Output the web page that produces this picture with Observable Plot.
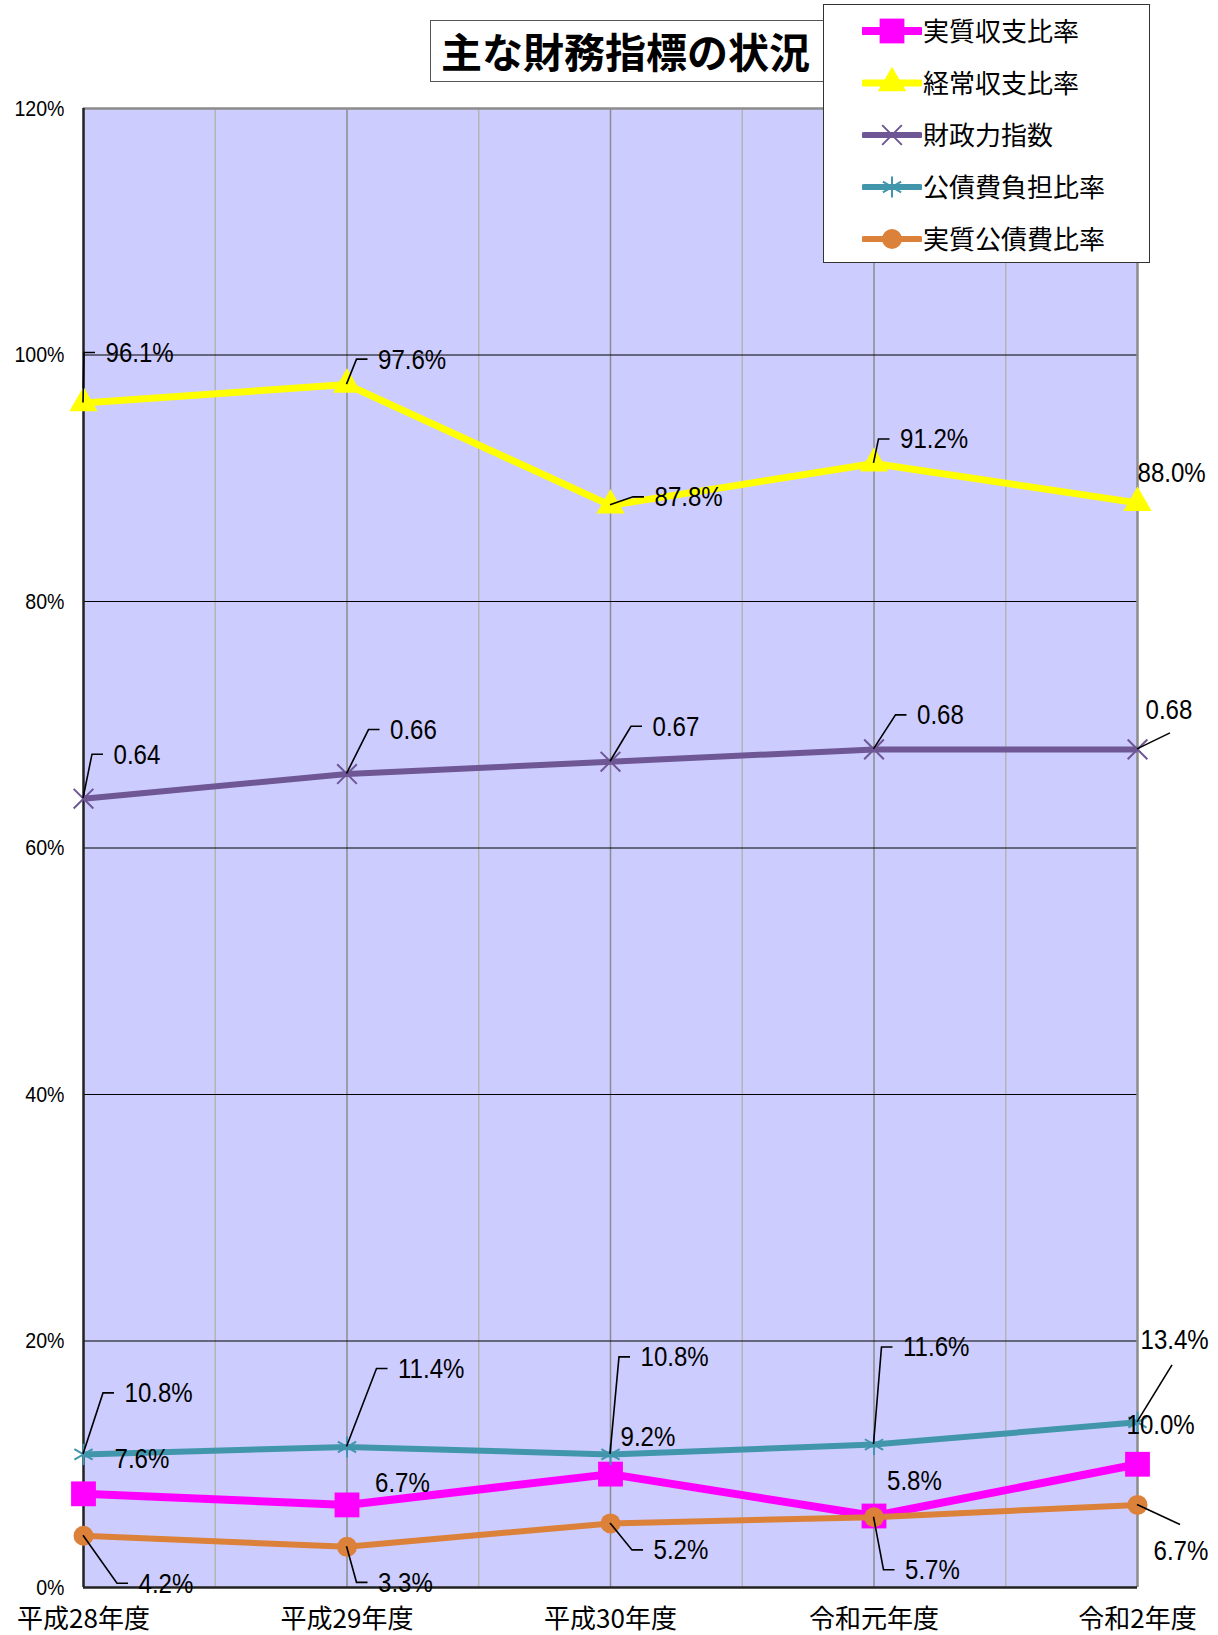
<!DOCTYPE html>
<html>
<head>
<meta charset="utf-8">
<script src="https://cdn.jsdelivr.net/npm/d3@7"></script>
<script src="https://cdn.jsdelivr.net/npm/@observablehq/plot@0.6"></script>
<style>
  body { margin: 0; background: #fff; }
  #wrap { position: relative; width: 1218px; height: 1635px; }
  #wrap svg.chart { position: absolute; left: 0; top: 0; }
  #title {
    position: absolute; left: 430px; top: 20px; width: 420px; height: 62px;
    box-sizing: border-box; border: 1.5px solid #555; background: #fff;
    font: bold 41px "Noto Sans CJK JP", sans-serif; line-height: 58px;
    padding-left: 10px; white-space: nowrap; color: #000;
  }
  #legend {
    position: absolute; left: 823px; top: 4px; width: 327px; height: 259px;
    box-sizing: border-box; border: 1.5px solid #333; background: #fff;
  }
  #legend .row { position: absolute; left: 0; height: 40px; width: 100%; }
  #legend .row svg { position: absolute; left: 38px; top: 0; }
  #legend .row span {
    position: absolute; left: 99px; top: 0; line-height: 40px;
    font: 26px "Noto Sans CJK JP", sans-serif; color: #000; white-space: nowrap;
  }
</style>
</head>
<body>
<div id="wrap">
  <div id="title">主な財務指標の状況</div>
  <div id="legend"></div>
</div>
<script>
// Fiscal years on the horizontal axis
const years = ["平成28年度", "平成29年度", "平成30年度", "令和元年度", "令和2年度"];

// Indicator values by year (ratios in %, fiscal power index as a fraction)
const realBalanceRatio = [7.6, 6.7, 9.2, 5.8, 10.0];         // 実質収支比率
const currentBalanceRatio = [96.1, 97.6, 87.8, 91.2, 88.0];  // 経常収支比率
const fiscalPowerIndex = [0.64, 0.66, 0.67, 0.68, 0.68];     // 財政力指数
const debtBurdenRatio = [10.8, 11.4, 10.8, 11.6, 13.4];      // 公債費負担比率
const realDebtServiceRatio = [4.2, 3.3, 5.2, 5.7, 6.7];      // 実質公債費比率

// Vertical axis ticks (%)
const yTicks = [0, 20, 40, 60, 80, 100, 120];

// Series appearance
const series = [
  {name: "実質収支比率", values: realBalanceRatio, scale: 1, fmt: v => v.toFixed(1) + "%",
   color: "#FF00FF", width: 8, symbol: "square", r: 14, filled: true},
  {name: "経常収支比率", values: currentBalanceRatio, scale: 1, fmt: v => v.toFixed(1) + "%",
   color: "#FFFF00", width: 7, symbol: "triangle", r: 10.5, filled: true},
  {name: "財政力指数", values: fiscalPowerIndex, scale: 100, fmt: v => v.toFixed(2),
   color: "#6E5794", width: 6, symbol: "times", r: 9, filled: false},
  {name: "公債費負担比率", values: debtBurdenRatio, scale: 1, fmt: v => v.toFixed(1) + "%",
   color: "#4196AC", width: 6, symbol: "asterisk", r: 10, filled: false},
  {name: "実質公債費比率", values: realDebtServiceRatio, scale: 1, fmt: v => v.toFixed(1) + "%",
   color: "#DC8139", width: 6, symbol: "circle", r: 10, filled: true}
];

// Data label placement: pixel offset of the label's left/middle from its point,
// and the leader style ("elbow" bends into the label's left side, [ex, ey] is a straight line end)
const labelPlacement = [
  [{dx: 31, dy: -35}, {dx: 28, dy: -22}, {dx: 10, dy: -37}, {dx: 13, dy: -35}, {dx: -11, dy: -39}],
  [{dx: 22, dy: -50, leader: "elbow"}, {dx: 31, dy: -25, leader: "elbow"}, {dx: 44, dy: -8, leader: "elbow"},
   {dx: 26, dy: -24, leader: "elbow"}, {dx: 0, dy: -30}],
  [{dx: 30, dy: -44, leader: "elbow"}, {dx: 43, dy: -44, leader: "elbow"}, {dx: 42, dy: -35, leader: "elbow"},
   {dx: 43, dy: -34, leader: "elbow"}, {dx: 8, dy: -39, leader: [33, -16]}],
  [{dx: 41, dy: -61, leader: "elbow"}, {dx: 51, dy: -78, leader: "elbow"}, {dx: 30, dy: -97, leader: "elbow"},
   {dx: 29, dy: -97, leader: "elbow"}, {dx: 3, dy: -82, leader: [35, -57]}],
  [{dx: 55, dy: 48, leader: "elbow"}, {dx: 31, dy: 36, leader: "elbow"}, {dx: 43, dy: 27, leader: "elbow"},
   {dx: 31, dy: 53, leader: "elbow"}, {dx: 16, dy: 46, leader: [43, 20]}]
];

const numFont = '"Liberation Sans", Arial, sans-serif';
const jpFont = '"Noto Sans CJK JP", sans-serif';
const LABEL_SIZE = 28, TICK_SIZE = 22;
// horizontal condensing of the numeric fonts
const condense = {[LABEL_SIZE]: 0.86, [TICK_SIZE]: 0.89};

const idx = years.map((_, i) => i);
const mids = idx.slice(0, -1).map(i => i + 0.5);

const rows = series.map(s => s.values.map((v, i) => ({i, y: v * s.scale, v, label: s.fmt(v)})));

const marks = [
  Plot.frame({fill: "#CCCCFF", stroke: null}),
  Plot.ruleX(mids, {x: d => d, stroke: "#B4B4B4", strokeWidth: 1.5}),
  Plot.ruleX(idx.slice(1, -1), {x: d => d, stroke: "#8C8C8C", strokeWidth: 1.5}),
  Plot.ruleY(yTicks.slice(1, -1), {y: d => d, stroke: "#000", strokeWidth: 1}),
  // plot border: grey top/right, dark left/bottom
  Plot.ruleY([120], {y: d => d, stroke: "#8C8C8C", strokeWidth: 2.5}),
  Plot.ruleX([years.length - 1], {x: d => d, stroke: "#8C8C8C", strokeWidth: 2.5}),
  Plot.ruleX([0], {x: d => d, stroke: "#222", strokeWidth: 2.5}),
  Plot.ruleY([0], {y: d => d, stroke: "#222", strokeWidth: 2.5}),
  // y tick labels
  Plot.text(yTicks, {y: d => d, text: d => d + "%", frameAnchor: "left", textAnchor: "end", dx: -19,
    fontSize: TICK_SIZE, fontFamily: numFont, fill: "#000"}),
  // x tick labels
  Plot.text(idx, {x: d => d, text: d => years[d], frameAnchor: "bottom", lineAnchor: "middle", dy: 32,
    fontSize: 26, fontFamily: jpFont, fill: "#000"})
];

series.forEach((s, k) => {
  marks.push(Plot.line(rows[k], {x: "i", y: "y", stroke: s.color, strokeWidth: s.width,
    strokeLinejoin: "miter", strokeLinecap: "butt"}));
  marks.push(Plot.dot(rows[k], {x: "i", y: "y", symbol: s.symbol, r: s.r,
    fill: s.filled ? s.color : "none", stroke: s.filled ? "none" : s.color, strokeWidth: 2}));
});

series.forEach((s, k) => {
  rows[k].forEach((d, j) => {
    const p = labelPlacement[k][j];
    marks.push(Plot.text([d], {x: "i", y: "y", text: "label", textAnchor: "start", dx: p.dx, dy: p.dy,
      fontSize: LABEL_SIZE, fontFamily: numFont, fill: "#000"}));
  });
});

const chart = Plot.plot({
  width: 1218,
  height: 1635,
  marginLeft: 83,
  marginRight: 81,
  marginTop: 108,
  marginBottom: 48,
  x: {type: "linear", domain: [0, years.length - 1], axis: null},
  y: {type: "linear", domain: [0, 120], axis: null},
  style: {background: "transparent", overflow: "visible"},
  marks
});
chart.classList.add("chart");
document.getElementById("wrap").prepend(chart);

// condense numeric labels horizontally around their anchor
d3.select(chart).selectAll("g[aria-label='text']").each(function () {
  const k = condense[this.getAttribute("font-size")];
  if (!k) return;
  d3.select(this).selectAll("text").each(function () {
    const t = this.getAttribute("transform");
    if (t) {
      this.setAttribute("transform", `${t} scale(${k},1)`);
    } else {
      const x = +this.getAttribute("x") || 0, y = +this.getAttribute("y") || 0;
      this.removeAttribute("x"); this.removeAttribute("y");
      this.setAttribute("transform", `translate(${x},${y}) scale(${k},1)`);
    }
  });
});

// leader lines from each point to its label
const xs = chart.scale("x"), ys = chart.scale("y");
const sx = d3.scaleLinear(xs.domain, xs.range);
const sy = d3.scaleLinear(ys.domain, ys.range);
const leaders = d3.select(chart).append("g").attr("fill", "none").attr("stroke", "#000").attr("stroke-width", 1.6);
series.forEach((s, k) => {
  rows[k].forEach((d, j) => {
    const p = labelPlacement[k][j];
    if (!p.leader) return;
    const px = sx(d.i), py = sy(d.y);
    const lx = px + p.dx, ly = py + p.dy;
    const path = p.leader === "elbow"
      ? `M${px},${py}L${lx - 21},${ly}L${lx - 10},${ly}`
      : `M${px},${py}L${px + p.leader[0]},${py + p.leader[1]}`;
    leaders.append("path").attr("d", path);
  });
});

// legend
const legend = d3.select("#legend");
const rowCenters = [26, 78, 130, 182, 234];
const symbols = {square: d3.symbolSquare, triangle: d3.symbolTriangle, times: d3.symbolTimes,
  asterisk: d3.symbolAsterisk, circle: d3.symbolCircle};
series.forEach((s, k) => {
  const row = legend.append("div").attr("class", "row").style("top", (rowCenters[k] - 20) + "px");
  const sw = row.append("svg").attr("width", 60).attr("height", 40);
  sw.append("line").attr("x1", 2).attr("x2", 58).attr("y1", 20).attr("y2", 20)
    .attr("stroke", s.color).attr("stroke-width", s.width).attr("stroke-linecap", "round");
  sw.append("path").attr("transform", "translate(30,20)")
    .attr("d", d3.symbol(symbols[s.symbol], s.r * s.r * Math.PI)())
    .attr("fill", s.filled ? s.color : "none").attr("stroke", s.filled ? "none" : s.color).attr("stroke-width", 2);
  row.append("span").text(s.name);
});
</script>
</body>
</html>
